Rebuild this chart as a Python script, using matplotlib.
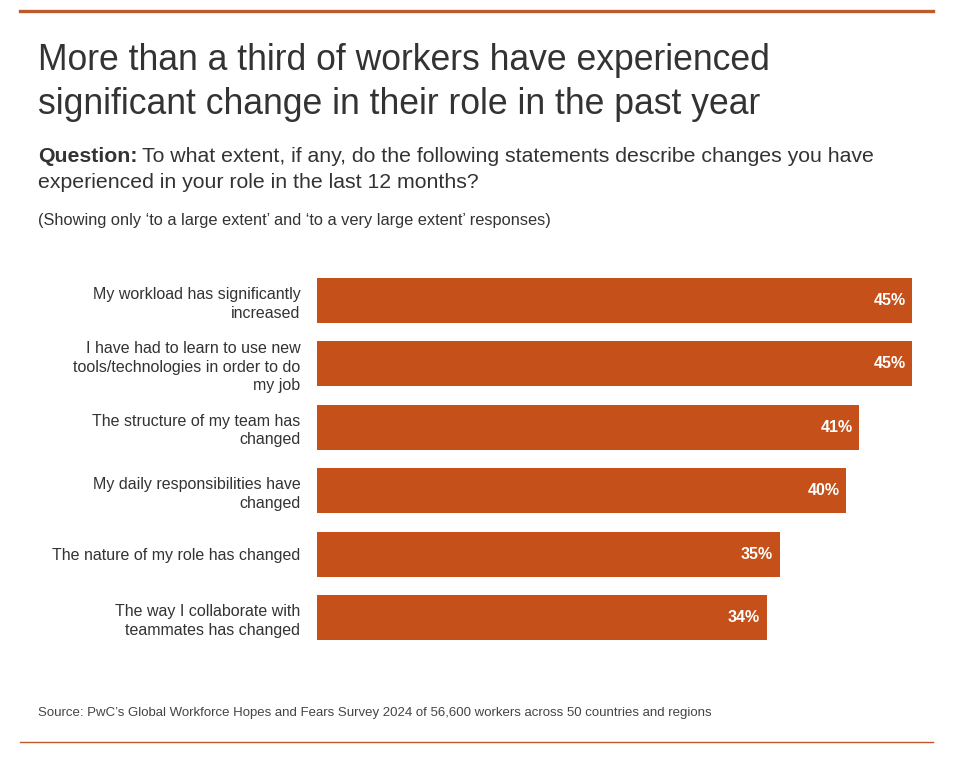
import matplotlib.pyplot as plt
from matplotlib.lines import Line2D

plt.rcParams['font.family'] = ['Liberation Sans', 'DejaVu Sans']

categories = [
    'My workload has significantly\nincreased',
    'I have had to learn to use new\ntools/technologies in order to do\nmy job',
    'The structure of my team has\nchanged',
    'My daily responsibilities have\nchanged',
    'The nature of my role has changed',
    'The way I collaborate with\nteammates has changed',
]
values = [45, 45, 41, 40, 35, 34]

bar_color = '#c5501a'
line_color = '#c0592b'
text_color = '#333333'

W, H = 978, 760
fig = plt.figure(figsize=(W / 100, H / 100), dpi=100)

# axes placed in pixel coordinates
left, right, top, bottom = 317, 912, 268.8, 649.2
ax = fig.add_axes([left / W, 1 - bottom / H, (right - left) / W, (bottom - top) / H])

ypos = list(range(len(values)))
ax.barh(ypos, values, height=0.71, color=bar_color)
ax.set_xlim(0, 45)
ax.set_ylim(len(values) - 0.5, -0.5)
ax.set_yticks(ypos)
ax.set_yticklabels(categories, fontsize=11.5, color=text_color, linespacing=1.3)
ax.tick_params(axis='y', length=0, pad=12)
ax.set_xticks([])
for s in ax.spines.values():
    s.set_visible(False)

for y, v in zip(ypos, values):
    ax.text(v - 0.5, y, f'{v}%', ha='right', va='center', color='white',
            fontsize=11.5, fontweight='bold')

# top and bottom rules
fig.add_artist(Line2D([20 / W, 933 / W], [1 - 11 / H, 1 - 11 / H], color=line_color, lw=2.4))
fig.add_artist(Line2D([20 / W, 933 / W], [1 - 742 / H, 1 - 742 / H], color=line_color, lw=1))

fig.text(38 / W, 1 - 60 / H, 'More than a third of workers have experienced',
         fontsize=25.6, color=text_color, va='center')
fig.text(38 / W, 1 - 105 / H, 'significant change in their role in the past year',
         fontsize=25.6, color=text_color, va='center')

q = fig.text(38 / W, 1 - 156 / H, 'Question:', fontsize=15.3, fontweight='bold',
             color=text_color, va='center')
renderer = fig.canvas.get_renderer()
qx = q.get_window_extent(renderer).x1
fig.text((qx + 5) / W, 1 - 156 / H,
         'To what extent, if any, do the following statements describe changes you have',
         fontsize=15.3, color=text_color, va='center')
fig.text(38 / W, 1 - 183 / H, 'experienced in your role in the last 12 months?',
         fontsize=15.3, color=text_color, va='center')
fig.text(38 / W, 1 - 220 / H,
         '(Showing only \u2018to a large extent\u2019 and \u2018to a very large extent\u2019 responses)',
         fontsize=11.8, color=text_color, va='center')

fig.text(38 / W, 1 - 713 / H,
         'Source: PwC\u2019s Global Workforce Hopes and Fears Survey 2024 of 56,600 workers across 50 countries and regions',
         fontsize=9.5, color='#444444', va='center')

fig.savefig('out.png', dpi=100, facecolor='white')
